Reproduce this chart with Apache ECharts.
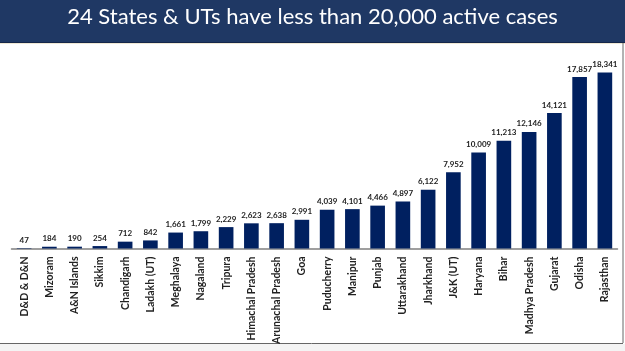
<!DOCTYPE html>
<html>
<head>
<meta charset="utf-8">
<script src="https://cdn.jsdelivr.net/npm/echarts@6/dist/echarts.min.js"></script>
<style>
  html, body { margin: 0; padding: 0; background: #fff; }
  #chart { width: 625px; height: 351px; }
</style>
</head>
<body>
<div id="chart"></div>
<script>
// active cases per state / UT
const states = ['D&D & D&N', 'Mizoram', 'A&N Islands', 'Sikkim', 'Chandigarh', 'Ladakh (UT)',
  'Meghalaya', 'Nagaland', 'Tripura', 'Himachal Pradesh', 'Arunachal Pradesh', 'Goa',
  'Puducherry', 'Manipur', 'Punjab', 'Uttarakhand', 'Jharkhand', 'J&K (UT)', 'Haryana',
  'Bihar', 'Madhya Pradesh', 'Gujarat', 'Odisha', 'Rajasthan'];
const activeCases = [47, 184, 190, 254, 712, 842, 1661, 1799, 2229, 2623, 2638, 2991,
  4039, 4101, 4466, 4897, 6122, 7952, 10009, 11213, 12146, 14121, 17857, 18341];

const titleText = '24 States & UTs have less than 20,000 active cases';

const chart = echarts.init(document.getElementById('chart'));

chart.setOption({
  animation: false,
  backgroundColor: '#fff',
  graphic: [
    { type: 'rect', shape: { x: 0, y: 0, width: 625, height: 42 }, style: { fill: '#1f3864' } },
    { type: 'rect', shape: { x: 0, y: 42, width: 625, height: 1 }, style: { fill: '#15264a' } },
    { type: 'rect', shape: { x: 0, y: 43, width: 625, height: 1 }, style: { fill: '#efe8d4' } },
    {
      type: 'text', left: 'center', top: 6,
      style: { text: titleText, fill: '#fff', fontSize: 22, fontFamily: 'Lato' }
    },
    { type: 'line', shape: { x1: 623, y1: 43, x2: 623, y2: 343 }, style: { stroke: '#666', lineWidth: 1 } },
    { type: 'line', shape: { x1: 0, y1: 343.5, x2: 623, y2: 343.5 }, style: { stroke: '#666', lineWidth: 1 } },
    { type: 'rect', shape: { x: 0, y: 344, width: 625, height: 7 }, style: { fill: '#f4f4f4' } }
  ],
  grid: { left: 11.5, right: 7.5, top: 56.5, bottom: 102.5, containLabel: false },
  xAxis: {
    type: 'category',
    data: states,
    axisLine: { lineStyle: { color: '#808080', width: 1.5 } },
    axisTick: { show: false },
    axisLabel: {
      rotate: 90, interval: 0, margin: 8,
      color: '#222', fontSize: 10.5, fontWeight: 'bold', fontFamily: 'Lato'
    }
  },
  yAxis: {
    type: 'value', min: 0, max: 20000,
    show: false, splitLine: { show: false }
  },
  series: [{
    type: 'bar',
    data: activeCases,
    barWidth: '58%',
    itemStyle: { color: '#002060' },
    label: {
      show: true, position: 'top', distance: 4,
      color: '#222', fontSize: 8, fontWeight: 'bold', fontFamily: 'Lato',
      formatter: p => p.value.toLocaleString('en-US')
    }
  }]
});
</script>
</body>
</html>
